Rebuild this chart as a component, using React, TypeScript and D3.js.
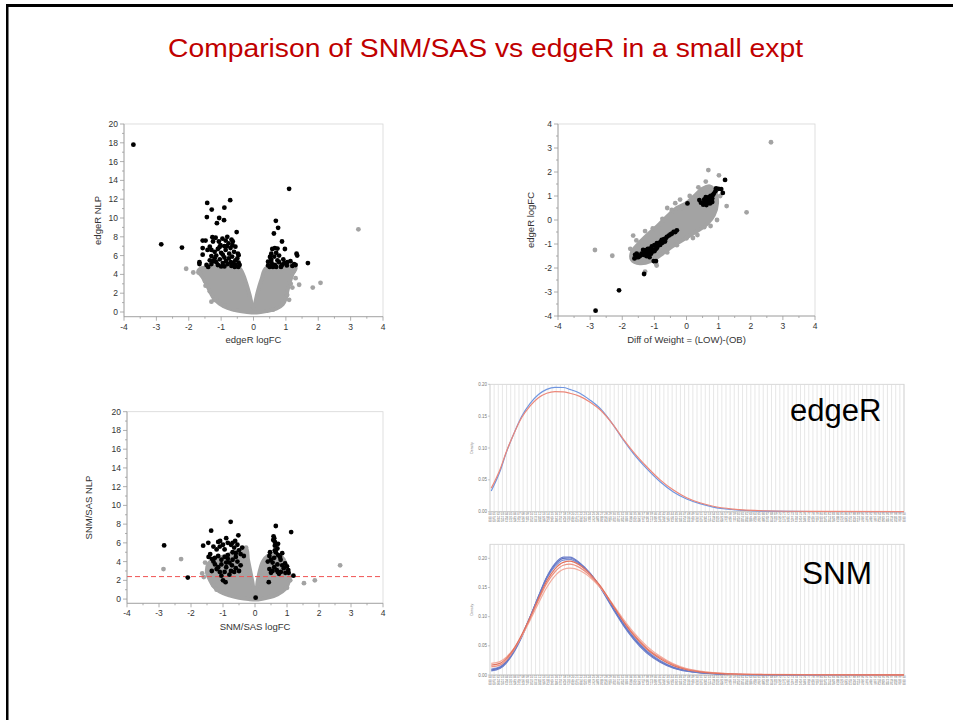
import React from 'react';
import * as d3 from 'd3';

type Pt = [number, number];

const titleText = 'Comparison of SNM/SAS vs edgeR in a small expt';

// ---- top-left: edgeR volcano ----
const edgeCloud: Pt[] = [
  [-1.55, 4.7], [-1.7, 4.4], [-1.55, 3.6], [-1.4, 2.6], [-1.25, 1.6], [-1.05, 0.9], [-0.8, 0.45],
  [-0.5, 0.15], [-0.2, 0.0], [0.1, -0.05], [0.4, 0.1], [0.7, 0.35], [0.9, 0.8], [1.0, 1.5],
  [1.05, 2.3], [1.12, 3.2], [1.2, 4.0], [1.3, 4.7], [0.4, 4.7], [0.25, 3.5], [0.12, 2.0],
  [0.04, 0.8], [0.0, 0.45], [-0.05, 0.8], [-0.12, 1.8], [-0.22, 3.0], [-0.35, 4.2], [-0.45, 4.7],
];
const edgeGray: Pt[] = [
  [3.24, 8.8], [-2.08, 4.6], [-1.86, 4.2], [-1.48, 2.8], [-1.21, 1.3], [-1.15, 1.6], [1.83, 2.6],
  [2.07, 3.1], [1.41, 2.9], [1.04, 1.8], [1.16, 4.7], [1.25, 4.4], [-1.6, 4.6], [-1.7, 4.2],
  [1.3, 3.6], [1.15, 3.0], [-1.5, 3.3], [-1.35, 2.2], [1.2, 2.6], [-0.9, 0.7], [0.9, 1.0],
  [-1.3, 1.1], [-0.6, 0.3], [0.6, 0.25], [1.1, 1.3],
];
const edgeBlack: Pt[] = [
  [-3.71, 17.8], [-2.85, 7.2], [-2.21, 6.85], [-1.67, 5.3], [-1.67, 5.1], [-1.43, 11.6], [-1.29, 10.9],
  [-1.44, 10.1], [-1.06, 10.0], [-1.13, 9.45], [-0.9, 11.1], [-0.91, 9.77], [-0.72, 11.9], [-0.52, 8.5],
  [-1.57, 7.6], [-1.48, 7.6], [-1.57, 6.8], [-1.57, 6.1], [-1.27, 7.95], [-1.17, 7.9], [-1.25, 7.5],
  [-1.35, 6.95], [-1.42, 6.6], [-0.96, 7.8], [-0.86, 7.6], [-0.68, 7.7], [-0.64, 7.5], [-1.02, 7.1],
  [-0.9, 7.0], [-0.77, 7.3], [-0.56, 6.95], [-0.48, 6.2], [-0.46, 6.05], [-1.3, 5.95], [-1.15, 6.0],
  [-1.25, 5.4], [-1.04, 5.6], [-0.9, 5.8], [-0.76, 5.7], [-0.66, 5.9], [-0.56, 5.5], [-0.46, 5.25],
  [-1.3, 5.1], [-1.1, 5.0], [-0.95, 5.2], [-0.8, 5.1], [-0.68, 4.9], [-0.56, 5.0], [-0.43, 5.0],
  [-0.86, 6.6], [-0.71, 6.8], [-0.81, 8.0], [-1.07, 7.5], [-1.2, 6.4], [-1.1, 6.7], [-1.0, 6.3],
  [-0.6, 6.4], [-0.75, 6.2], [-1.35, 5.5], [-1.2, 5.7], [-0.5, 5.7], [-0.62, 5.2], [-0.85, 5.4],
  [-1.0, 4.85], [-0.9, 4.85], [-0.7, 5.3], [-1.15, 5.3], [-0.58, 4.8], [-0.47, 4.8], [-1.45, 5.0],
  [-1.4, 4.8], [-1.05, 6.9], [-0.82, 7.0], [-0.65, 7.1], [-1.3, 6.6], [-0.95, 6.1],
  [1.1, 13.1], [0.69, 9.7], [0.76, 8.95], [0.63, 8.35], [0.88, 7.5], [0.97, 6.7], [1.33, 6.2],
  [1.35, 6.0], [1.68, 5.2], [1.04, 5.3], [1.25, 5.1], [1.14, 5.4], [1.3, 5.0], [0.58, 6.7],
  [0.66, 6.8], [0.74, 6.75], [0.55, 6.2], [0.64, 5.9], [0.79, 6.0], [0.45, 5.35], [0.56, 5.2],
  [0.66, 5.0], [0.79, 5.3], [0.88, 5.0], [0.45, 4.95], [0.95, 5.2], [1.03, 4.95], [0.74, 5.5],
  [0.51, 5.85], [0.6, 4.8], [0.7, 4.8], [0.85, 4.8], [0.55, 5.55], [0.7, 6.3], [0.5, 4.8],
  [0.92, 5.6], [1.2, 4.9],
];

// ---- top-right: edgeR logFC vs Diff of Weight ----
const diffCloud: Pt[] = [
  [-1.7, -1.65], [-1.45, -1.8], [-1.1, -1.7], [-0.8, -1.45], [-0.5, -1.15], [-0.2, -0.9],
  [0.1, -0.65], [0.4, -0.4], [0.65, -0.15], [0.85, 0.2], [0.95, 0.7], [0.9, 1.15], [0.72, 1.4],
  [0.5, 1.3], [0.25, 1.0], [0.0, 0.7], [-0.3, 0.5], [-0.6, 0.15], [-0.9, -0.25],
  [-1.2, -0.6], [-1.5, -1.0], [-1.7, -1.35],
];
const diffGray: Pt[] = [
  [2.63, 3.24], [0.68, 2.08], [1.01, 1.86], [1.25, 0.58], [1.87, 0.32], [-2.85, -1.25], [-2.31, -1.49],
  [-1.66, -0.65], [-1.56, -0.85], [-1.29, -0.46], [-1.29, -2.15], [-0.93, -1.9], [-0.69, -1.28],
  [0.0, -0.76], [0.34, -0.63], [-0.46, 0.42], [-0.15, 0.48], [0.37, 1.36], [0.81, 1.21],
  [-1.0, -1.72], [-0.95, -1.8], [0.2, 0.85], [-0.6, 0.5], [0.55, -0.3], [-1.4, -0.9],
  [-0.75, 0.05], [-0.35, 0.7], [0.1, 1.0], [0.6, 1.6], [0.95, 0.0], [0.75, -0.25], [0.2, -0.75],
  [-0.3, -1.05], [-0.6, -1.35], [-1.75, -1.2], [-1.05, -0.35], [-0.2, 0.85], [1.05, 1.0],
];
const diffBlack: Pt[] = [
  [-2.83, -3.78], [-2.1, -2.93], [-1.32, -2.25], [-1.02, -1.71], [-0.95, -1.71], [-1.62, -1.6],
  [-1.5, -1.55], [-1.4, -1.4], [-1.24, -1.25], [-1.08, -1.1], [-0.92, -0.96], [-0.77, -0.83],
  [-0.61, -0.7], [-0.46, -0.57], [-0.3, -0.43], [-1.19, -1.46], [-1.08, -1.32], [-0.93, -1.18],
  [-0.82, -1.04], [-0.67, -0.9], [-1.55, -1.4], [-1.35, -1.25], [-1.45, -1.5], [-1.3, -1.35],
  [-1.15, -1.2], [-1.0, -1.05], [-0.85, -0.95], [-0.7, -0.8], [-0.55, -0.65], [-0.4, -0.5],
  [-1.2, -1.35], [-1.1, -1.4], [-0.9, -1.1], [-0.75, -0.95], [-1.25, -1.5],
  [-1.35, -1.45], [-1.2, -1.2], [-1.05, -1.25], [-0.95, -1.2], [-0.8, -0.9], [-0.65, -0.78],
  [-0.5, -0.6], [-0.35, -0.5], [-1.55, -1.55], [-1.6, -1.45], [-1.15, -1.55], [-1.0, -1.3],
  [-0.88, -1.0], [-0.72, -0.88],
  [0.03, 0.69], [0.4, 0.83], [0.52, 0.64], [0.57, 0.78], [0.67, 0.9], [0.73, 0.69], [0.82, 1.04],
  [0.92, 1.32], [1.08, 1.29], [1.13, 1.13], [1.2, 1.67], [0.6, 0.7], [0.65, 0.8], [0.7, 0.95],
  [0.75, 0.8], [0.8, 0.9], [0.85, 1.1], [0.62, 0.62], [0.45, 0.72], [0.55, 0.85], [0.9, 1.2],
  [1.0, 1.3], [0.68, 0.75], [0.75, 1.0], [0.8, 0.75], [0.6, 0.95],
];

// ---- bottom-left: SNM/SAS volcano ----
const snmCloud: Pt[] = [
  [-1.45, 3.8], [-1.5, 2.8], [-1.4, 2.0], [-1.3, 1.4], [-1.1, 0.8], [-0.8, 0.4], [-0.5, 0.15],
  [-0.2, 0.0], [0.1, -0.05], [0.4, 0.15], [0.7, 0.5], [0.95, 1.1], [1.05, 1.8], [1.08, 2.5],
  [1.0, 3.2], [0.9, 4.2], [0.7, 4.8], [0.4, 4.6], [0.25, 4.0], [0.15, 3.0], [0.08, 1.8],
  [0.03, 0.8], [-0.02, 0.8], [-0.08, 1.8], [-0.15, 3.0], [-0.22, 4.2], [-0.28, 5.4], [-0.5, 5.2],
  [-0.8, 4.8], [-1.1, 4.4], [-1.3, 4.2],
];
const snmGray: Pt[] = [
  [-2.86, 3.2], [-2.31, 4.27], [2.66, 3.6], [1.53, 1.7], [1.87, 2.0], [-1.65, 2.74], [-1.6, 2.35],
  [-1.3, 1.5], [-1.56, 3.9], [-0.28, 5.5], [1.1, 2.0], [1.0, 1.2], [-1.2, 1.0],
];
const snmBlack: Pt[] = [
  [-2.84, 5.73], [-2.1, 2.3], [0.02, 0.15], [-0.76, 8.25], [-1.37, 7.3], [-0.52, 6.8], [-0.9, 6.5],
  [0.65, 7.8], [1.13, 7.15], [0.58, 6.7], [0.57, 6.3], [0.62, 6.1], [-1.62, 5.7], [-1.46, 6.0],
  [-1.09, 6.2], [-1.0, 2.0], [-0.92, 1.8], [0.43, 1.8], [1.2, 2.5], [0.71, 2.9], [0.81, 2.9],
  [1.04, 3.1], [0.94, 3.8], [0.78, 4.5], [0.47, 5.0],
  [-1.4, 4.8], [-1.45, 4.5], [-1.35, 4.3], [-1.3, 4.0], [-1.25, 3.7], [-1.2, 3.2], [-1.35, 3.0],
  [-1.15, 4.6], [-1.2, 5.3], [-1.1, 5.6], [-1.0, 5.8], [-0.85, 6.0], [-0.75, 5.8], [-0.65, 5.5],
  [-0.55, 5.8], [-0.5, 5.2], [-0.45, 4.8], [-0.6, 4.5], [-0.7, 4.2], [-0.8, 3.9], [-0.55, 4.0],
  [-0.45, 3.6], [-0.6, 3.3], [-0.75, 3.0], [-0.9, 3.4], [-1.05, 3.7], [-1.05, 4.2], [-0.95, 4.5],
  [-0.85, 4.7], [-0.7, 5.0], [-0.6, 4.9], [-1.1, 2.9], [-0.95, 2.9], [-0.8, 2.6], [-0.65, 2.9],
  [-0.5, 3.0], [-0.85, 4.3], [-0.9, 3.9], [-1.15, 3.4], [-0.72, 3.6], [-0.35, 4.6], [-0.4, 5.5],
  [-0.95, 5.3], [-1.25, 4.4], [-1.05, 2.5], [-1.3, 5.6], [-0.7, 6.0], [-0.62, 6.2], [-1.15, 6.1],
  [0.45, 4.6], [0.5, 4.2], [0.55, 3.9], [0.6, 4.4], [0.65, 5.0], [0.7, 5.4], [0.62, 5.7],
  [0.6, 6.5], [0.72, 4.7], [0.8, 4.2], [0.85, 3.6], [0.9, 3.3], [0.7, 3.7], [0.6, 3.4],
  [0.55, 3.0], [0.45, 3.2], [0.68, 3.1], [0.95, 2.8], [1.05, 2.8], [0.75, 2.7], [0.5, 2.8],
  [0.62, 5.2], [0.72, 5.9], [0.4, 4.0], [0.85, 4.9], [1.0, 3.5],
];
const snmCutoff = 2.4;

// ---- density curves (x in arbitrary 0..100 units) ----
const densX = [0.3, 2.4, 4, 5.6, 7.6, 9.7, 11.7, 13.7, 15.7, 17.7, 19.3, 21.7, 24.2, 26.6, 29.8,
  32.2, 34.6, 37.8, 41.1, 44.3, 47.5, 50.7, 53.9, 58.8, 66, 78, 100];
const edgeDensBlue = [0.0325, 0.063, 0.094, 0.12, 0.149, 0.17, 0.184, 0.192, 0.1952, 0.195, 0.192,
  0.186, 0.175, 0.162, 0.136, 0.1126, 0.0916, 0.068, 0.047, 0.031, 0.02, 0.0126, 0.0073, 0.0031,
  0.001, 0.0003, 0.0001];
const edgeDensRed = [0.037, 0.066, 0.095, 0.12, 0.147, 0.166, 0.179, 0.186, 0.1885, 0.1882, 0.186,
  0.181, 0.172, 0.16, 0.136, 0.114, 0.094, 0.071, 0.05, 0.034, 0.022, 0.014, 0.0085, 0.004, 0.0015,
  0.0005, 0.0002];
const snmDensBlue1 = [0.0086, 0.0126, 0.023, 0.039, 0.066, 0.1, 0.134, 0.167, 0.189, 0.2, 0.2005,
  0.191, 0.174, 0.151, 0.114, 0.087, 0.064, 0.04, 0.023, 0.0126, 0.0069, 0.004, 0.0023, 0.0012,
  0.0006, 0.0003, 0.0001];
const snmDensBlue2 = [0.01, 0.014, 0.024, 0.04, 0.067, 0.1, 0.133, 0.165, 0.186, 0.197, 0.198,
  0.189, 0.173, 0.151, 0.115, 0.089, 0.066, 0.042, 0.025, 0.0138, 0.0076, 0.0044, 0.0026, 0.0013,
  0.0006, 0.0003, 0.0001];
const snmDensBlue3 = [0.007, 0.011, 0.021, 0.037, 0.064, 0.099, 0.135, 0.168, 0.191, 0.202, 0.202,
  0.192, 0.174, 0.15, 0.112, 0.085, 0.062, 0.038, 0.022, 0.0118, 0.0064, 0.0037, 0.0021, 0.0011,
  0.0005, 0.0002, 0.0001];
const snmDensRed1 = [0.017, 0.02, 0.029, 0.043, 0.068, 0.099, 0.131, 0.161, 0.182, 0.193, 0.195,
  0.188, 0.173, 0.153, 0.118, 0.092, 0.069, 0.045, 0.028, 0.016, 0.009, 0.0055, 0.0033, 0.0017,
  0.0008, 0.0004, 0.0002];
const snmDensRed2 = [0.014, 0.017, 0.026, 0.041, 0.066, 0.097, 0.128, 0.157, 0.177, 0.188, 0.19,
  0.184, 0.17, 0.151, 0.118, 0.093, 0.071, 0.047, 0.03, 0.018, 0.01, 0.006, 0.0036, 0.0019,
  0.0009, 0.0004, 0.0002];
const snmDensRed3 = [0.02, 0.023, 0.031, 0.044, 0.066, 0.094, 0.123, 0.15, 0.17, 0.181, 0.183,
  0.179, 0.167, 0.15, 0.12, 0.096, 0.074, 0.05, 0.032, 0.019, 0.011, 0.0065, 0.004, 0.002, 0.001,
  0.0005, 0.0002];

const GRAY = '#a3a3a3';
const FONT = 'Liberation Sans, Arial, sans-serif';

type ScatterProps = {
  left: number; right: number; top: number; bottom: number;
  yDomain: [number, number]; yMajor: number; yMinor: number;
  cloud: Pt[]; gray: Pt[]; black: Pt[];
  xTitle: string; yTitle: string; yTitleX: number; cutoff?: number;
};

function ScatterPanel(p: ScatterProps) {
  const x = d3.scaleLinear().domain([-4, 4]).range([p.left, p.right]);
  const y = d3.scaleLinear().domain(p.yDomain).range([p.bottom, p.top]);
  const cloudPath = d3.line<Pt>().x(d => x(d[0])).y(d => y(d[1])).curve(d3.curveCatmullRomClosed)(p.cloud) || '';
  const xMajor = x.ticks(8);
  const xMinor = x.ticks(16).filter(t => !xMajor.includes(t));
  const yMajor = y.ticks(p.yMajor);
  const yMinor = y.ticks(p.yMinor).filter(t => !yMajor.includes(t));
  const axisCol = '#9a9a9a';
  return (
    <g fontFamily={FONT}>
      <rect x={p.left} y={p.top} width={p.right - p.left} height={p.bottom - p.top} fill="#fff" stroke="#d6d6d6" strokeWidth={0.8} />
      <path d={cloudPath} fill={GRAY} stroke={GRAY} strokeWidth={4} strokeLinejoin="round" />
      {p.gray.map((d, i) => <circle key={'g' + i} cx={x(d[0])} cy={y(d[1])} r={2.4} fill={GRAY} />)}
      {p.cutoff !== undefined && (
        <line x1={p.left} x2={p.right} y1={y(p.cutoff)} y2={y(p.cutoff)} stroke="#f05252" strokeWidth={1} strokeDasharray="5 3" />
      )}
      {p.black.map((d, i) => <circle key={'b' + i} cx={x(d[0])} cy={y(d[1])} r={2.4} fill="#000" />)}
      <line x1={p.left} x2={p.left} y1={p.top} y2={p.bottom} stroke={axisCol} strokeWidth={0.8} />
      <line x1={p.left} x2={p.right} y1={p.bottom} y2={p.bottom} stroke={axisCol} strokeWidth={0.8} />
      {xMajor.map(t => (
        <g key={'xm' + t}>
          <line x1={x(t)} x2={x(t)} y1={p.bottom} y2={p.bottom + 4} stroke={axisCol} strokeWidth={0.8} />
          <text x={x(t)} y={p.bottom + 13} fontSize={8.5} fill="#333" textAnchor="middle">{t}</text>
        </g>
      ))}
      {xMinor.map(t => (
        <line key={'xn' + t} x1={x(t)} x2={x(t)} y1={p.bottom} y2={p.bottom + 2} stroke={axisCol} strokeWidth={0.8} />
      ))}
      {yMajor.map(t => (
        <g key={'ym' + t}>
          <line x1={p.left - 4} x2={p.left} y1={y(t)} y2={y(t)} stroke={axisCol} strokeWidth={0.8} />
          <text x={p.left - 6} y={y(t) + 3} fontSize={8.5} fill="#333" textAnchor="end">{t}</text>
        </g>
      ))}
      {yMinor.map(t => (
        <line key={'yn' + t} x1={p.left - 2} x2={p.left} y1={y(t)} y2={y(t)} stroke={axisCol} strokeWidth={0.8} />
      ))}
      <text x={(p.left + p.right) / 2} y={p.bottom + 26.5} fontSize={9.5} fill="#333" textAnchor="middle">{p.xTitle}</text>
      <text transform={`translate(${p.yTitleX},${(p.top + p.bottom) / 2}) rotate(-90)`} fontSize={9.5} fill="#333" textAnchor="middle">{p.yTitle}</text>
    </g>
  );
}

type DensProps = {
  top: number; bottom: number; yMax: number;
  blues: number[][]; reds: number[][]; blueCols: string[]; redCols: string[];
  label: string; labelX: number; labelY: number; labelSize: number;
};

function DensityPanel(p: DensProps) {
  const left = 490, right = 904;
  const x = d3.scaleLinear().domain([0, 100]).range([left, right]);
  const y = d3.scaleLinear().domain([0, p.yMax]).range([p.bottom, p.top]);
  const line = d3.line<number>().x((_, i) => x(densX[i])).y(d => y(d)).curve(d3.curveMonotoneX);
  const grid = x.ticks(100);
  const yTicks = [0, 0.05, 0.1, 0.15, 0.2];
  const fmt = d3.format('.2f');
  const two = d3.format('02d');
  return (
    <g fontFamily={FONT}>
      <rect x={left} y={p.top} width={right - left} height={p.bottom - p.top} fill="#fff" stroke="#cfcfcf" strokeWidth={0.8} />
      {grid.map(t => (
        <line key={'g' + t} x1={x(t)} x2={x(t)} y1={p.top} y2={p.bottom} stroke="#dcdcdc" strokeWidth={0.7} />
      ))}
      {grid.map(t => (
        <g key={'l' + t} fontSize={2.9} fill="#6a6a6a" textAnchor="middle">
          <text x={x(t)} y={p.bottom + 3.4}>{two(t % 100)}</text>
          <text x={x(t)} y={p.bottom + 6.8}>{two((t * 7) % 100)}</text>
          <text x={x(t)} y={p.bottom + 10.2}>{two((t * 3) % 100)}</text>
        </g>
      ))}
      <line x1={left} x2={right} y1={p.bottom} y2={p.bottom} stroke="#bbb" strokeWidth={0.6} />
      {yTicks.map(t => (
        <g key={'y' + t}>
          <line x1={left - 2} x2={left} y1={y(t)} y2={y(t)} stroke="#aaa" strokeWidth={0.6} />
          <text x={left - 3} y={y(t) + 1.5} fontSize={4.5} fill="#777" textAnchor="end">{fmt(t)}</text>
        </g>
      ))}
      <text transform={`translate(${left - 17},${(p.top + p.bottom) / 2}) rotate(-90)`} fontSize={3.5} fill="#777" textAnchor="middle">Density</text>
      {p.blues.map((s, i) => (
        <path key={'b' + i} d={line(s) || ''} fill="none" stroke={p.blueCols[i]} strokeWidth={1.2} />
      ))}
      {p.reds.map((s, i) => (
        <path key={'r' + i} d={line(s) || ''} fill="none" stroke={p.redCols[i]} strokeWidth={1.2} />
      ))}
      <text x={p.labelX} y={p.labelY} fontSize={p.labelSize} fill="#000">{p.label}</text>
    </g>
  );
}

export default function App() {
  return (
    <svg width={953} height={720} style={{ position: 'absolute', left: 0, top: 0, background: '#fff' }}>
      <rect x={0} y={0} width={953} height={720} fill="#fff" />
      <rect x={6} y={4} width={947} height={3} fill="#000" />
      <rect x={6} y={4} width={2.5} height={716} fill="#000" />
      <text x={485.5} y={57} fontFamily={FONT} fontSize={26} fill="#c00000" textAnchor="middle"
        textLength={635} lengthAdjust="spacingAndGlyphs">{titleText}</text>

      <ScatterPanel left={124} right={383} top={124} bottom={316.7} yDomain={[-0.5, 20]} yMajor={10} yMinor={20}
        cloud={edgeCloud} gray={edgeGray} black={edgeBlack} xTitle="edgeR logFC" yTitle="edgeR NLP" yTitleX={101} />
      <ScatterPanel left={558} right={815} top={124} bottom={316} yDomain={[-4, 4]} yMajor={8} yMinor={16}
        cloud={diffCloud} gray={diffGray} black={diffBlack} xTitle="Diff of Weight = (LOW)-(OB)" yTitle="edgeR logFC" yTitleX={534} />
      <ScatterPanel left={127} right={383} top={411.7} bottom={603.3} yDomain={[-0.45, 20]} yMajor={10} yMinor={20}
        cloud={snmCloud} gray={snmGray} black={snmBlack} xTitle="SNM/SAS logFC" yTitle="SNM/SAS NLP" yTitleX={92} cutoff={snmCutoff} />

      <DensityPanel top={384.3} bottom={511.7} yMax={0.2}
        blues={[edgeDensBlue]} reds={[edgeDensRed]} blueCols={['#7096e0']} redCols={['#ec887a']}
        label="edgeR" labelX={790} labelY={421} labelSize={31} />
      <DensityPanel top={544.3} bottom={675} yMax={0.224}
        blues={[snmDensBlue2, snmDensBlue1, snmDensBlue3]} reds={[snmDensRed3, snmDensRed2, snmDensRed1]}
        blueCols={['#7c8fd4', '#5f72c2', '#6a7dca']} redCols={['#f2ad9f', '#ee9282', '#e2735f']}
        label="SNM" labelX={802} labelY={584} labelSize={31.5} />
    </svg>
  );
}
